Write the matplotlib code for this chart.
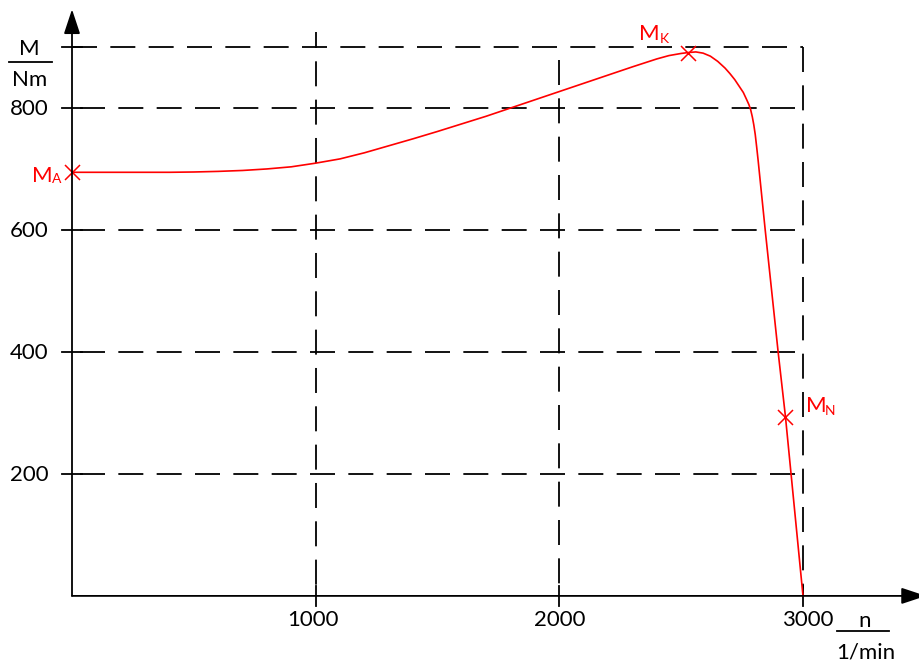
import matplotlib
matplotlib.use("Agg")
import matplotlib.pyplot as plt
from matplotlib.lines import Line2D

plt.rcParams["font.family"] = ["Lato", "DejaVu Sans"]
plt.rcParams["lines.scale_dashes"] = False

# Torque-speed characteristic of the motor (n in 1/min, M in Nm)
speed = [0, 200, 400, 500, 600, 700, 800, 900, 1000, 1100, 1200, 1300,
         1400, 1500, 1600, 1700, 1800, 1900, 2000, 2100, 2200, 2300, 2400,
         2450, 2500, 2530, 2560, 2590, 2620, 2650, 2680, 2700, 2720, 2740,
         2755, 2769, 2778, 2785, 2792, 2798, 2804, 2810, 2816, 2845, 2898,
         2928, 3000]
torque = [695, 695, 695, 695.5, 696.5, 698, 700.5, 704, 710, 717, 727, 738.5,
          750, 762, 774.5, 787, 800.5, 814, 827.5, 841, 854.5, 868, 881,
          886.5, 890, 891.5, 892.5, 890.5, 885.5, 877, 866, 857, 847, 835,
          826, 814, 806, 798, 786, 773, 757, 736, 714, 600, 400,
          294, 0]

# Characteristic points: starting, breakdown and rated torque
point_names = ["A", "K", "N"]
point_speed = [0, 2530, 2928]
point_torque = [695, 891.5, 294]

x_ticks = [1000, 2000, 3000]
x_tick_labels = ["1000", "2000", "3000"]
y_ticks = [200, 400, 600, 800]
y_tick_labels = ["200", "400", "600", "800"]
y_top = 900

W, H = 919, 663
fig = plt.figure(figsize=(W / 100, H / 100), dpi=100)
fig.patch.set_facecolor("white")

# pixel frame of the plotting area
px0, px1 = 72.0, 803.0
py0, py1 = 595.9, 47.35
ax = fig.add_axes([px0 / W, 1 - py0 / H, (px1 - px0) / W, (py0 - py1) / H])
ax.set_xlim(0, 3000)
ax.set_ylim(0, y_top)
ax.axis("off")

dn = 3000 / (px1 - px0)      # speed per pixel
dm = y_top / (py0 - py1)     # torque per pixel

BLACK = "black"
RED = "#ff0000"
LW = 1.3
DASH = (18, 9.6)
FS = 16

# dashed grid: horizontal lines
for y in y_ticks:
    ax.plot([8 * dn, 3000], [y, y], color=BLACK, lw=LW, ls=(0, DASH),
            clip_on=False)
ax.plot([0, 3000], [y_top, y_top], color=BLACK, lw=LW, ls=(0, DASH),
        clip_on=False)

# dashed grid: vertical lines, drawn from their top end downwards
v_tops = {1000: (py0 - 31.7) * dm, 2000: (py0 - 60.0) * dm, 3000: y_top}
v_offsets = {1000: 6.5, 2000: 0, 3000: 0}
for x in x_ticks:
    ax.plot([x, x], [v_tops[x], 0], color=BLACK, lw=LW,
            ls=(v_offsets[x], DASH), clip_on=False)

# tick marks
for y in y_ticks + [y_top]:
    ax.plot([-10 * dn, 10 * dn], [y, y], color=BLACK, lw=LW, clip_on=False)
for x in x_ticks:
    ax.plot([x, x], [-10 * dm, 10 * dm], color=BLACK, lw=LW, clip_on=False)

# axes with arrow heads
arrow_style = "-|>,head_length=15.1,head_width=5.0"
ax.annotate("", xy=((926 - px0) * dn, 0), xytext=(0, 0),
            arrowprops=dict(arrowstyle=arrow_style, color=BLACK, lw=LW,
                            shrinkA=0, shrinkB=0, mutation_scale=1),
            annotation_clip=False)
ax.annotate("", xy=(0, (py0 - 9.3) * dm), xytext=(0, 0),
            arrowprops=dict(arrowstyle=arrow_style, color=BLACK, lw=LW,
                            shrinkA=0, shrinkB=0, mutation_scale=1),
            annotation_clip=False)

# tick labels
for y, lab in zip(y_ticks, y_tick_labels):
    ax.annotate(lab, xy=(0, y), xytext=(-23.7, -6.7), textcoords="offset pixels",
                ha="right", va="baseline", fontsize=FS, color=BLACK,
                annotation_clip=False)
x_label_shift = {1000: -3, 2000: 0, 3000: 5}
for x, lab in zip(x_ticks, x_tick_labels):
    ax.annotate(lab, xy=(x, 0), xytext=(x_label_shift[x], -30),
                textcoords="offset pixels", ha="center", va="baseline",
                fontsize=FS, color=BLACK, annotation_clip=False)

# axis quantity / unit fractions
def fig_text(x, y, s, **kw):
    fig.text(x / W, 1 - y / H, s, **kw)

def fig_line(xa, xb, y):
    fig.add_artist(Line2D([xa / W, xb / W], [1 - y / H, 1 - y / H],
                          color=BLACK, lw=LW))

fig_text(29.0, 55.0, "M", ha="center", va="baseline", fontsize=FS)
fig_line(9.3, 51.7, 61.7)
fig_text(29.7, 86.0, "Nm", ha="center", va="baseline", fontsize=FS)

fig_text(865.0, 626.7, "n", ha="center", va="baseline", fontsize=FS)
fig_line(837.3, 889.3, 630.7)
fig_text(866.0, 658.3, "1/min", ha="center", va="baseline", fontsize=FS)

# characteristic curve and its marked points
ax.plot(speed, torque, color=RED, lw=1.2, clip_on=False,
        solid_joinstyle="round")
ax.plot(point_speed, point_torque, "x", color=RED, ms=10.8, mew=1.1,
        clip_on=False)

label_offsets = {
    "A": ((-40.3, -9.4), (-20.3, -11.0)),
    "K": ((-49.0, 13.0), (-28.3, 9.5)),
    "N": ((20.3, 5.0), (39.3, 2.0)),
}
for name, n, m in zip(point_names, point_speed, point_torque):
    main_off, sub_off = label_offsets[name]
    ax.annotate("M", xy=(n, m), xytext=main_off, textcoords="offset pixels",
                ha="left", va="baseline", fontsize=FS, color=RED,
                annotation_clip=False)
    ax.annotate(name, xy=(n, m), xytext=sub_off, textcoords="offset pixels",
                ha="left", va="baseline", fontsize=10, color=RED,
                annotation_clip=False)

fig.savefig("out.png", dpi=100, facecolor="white")
